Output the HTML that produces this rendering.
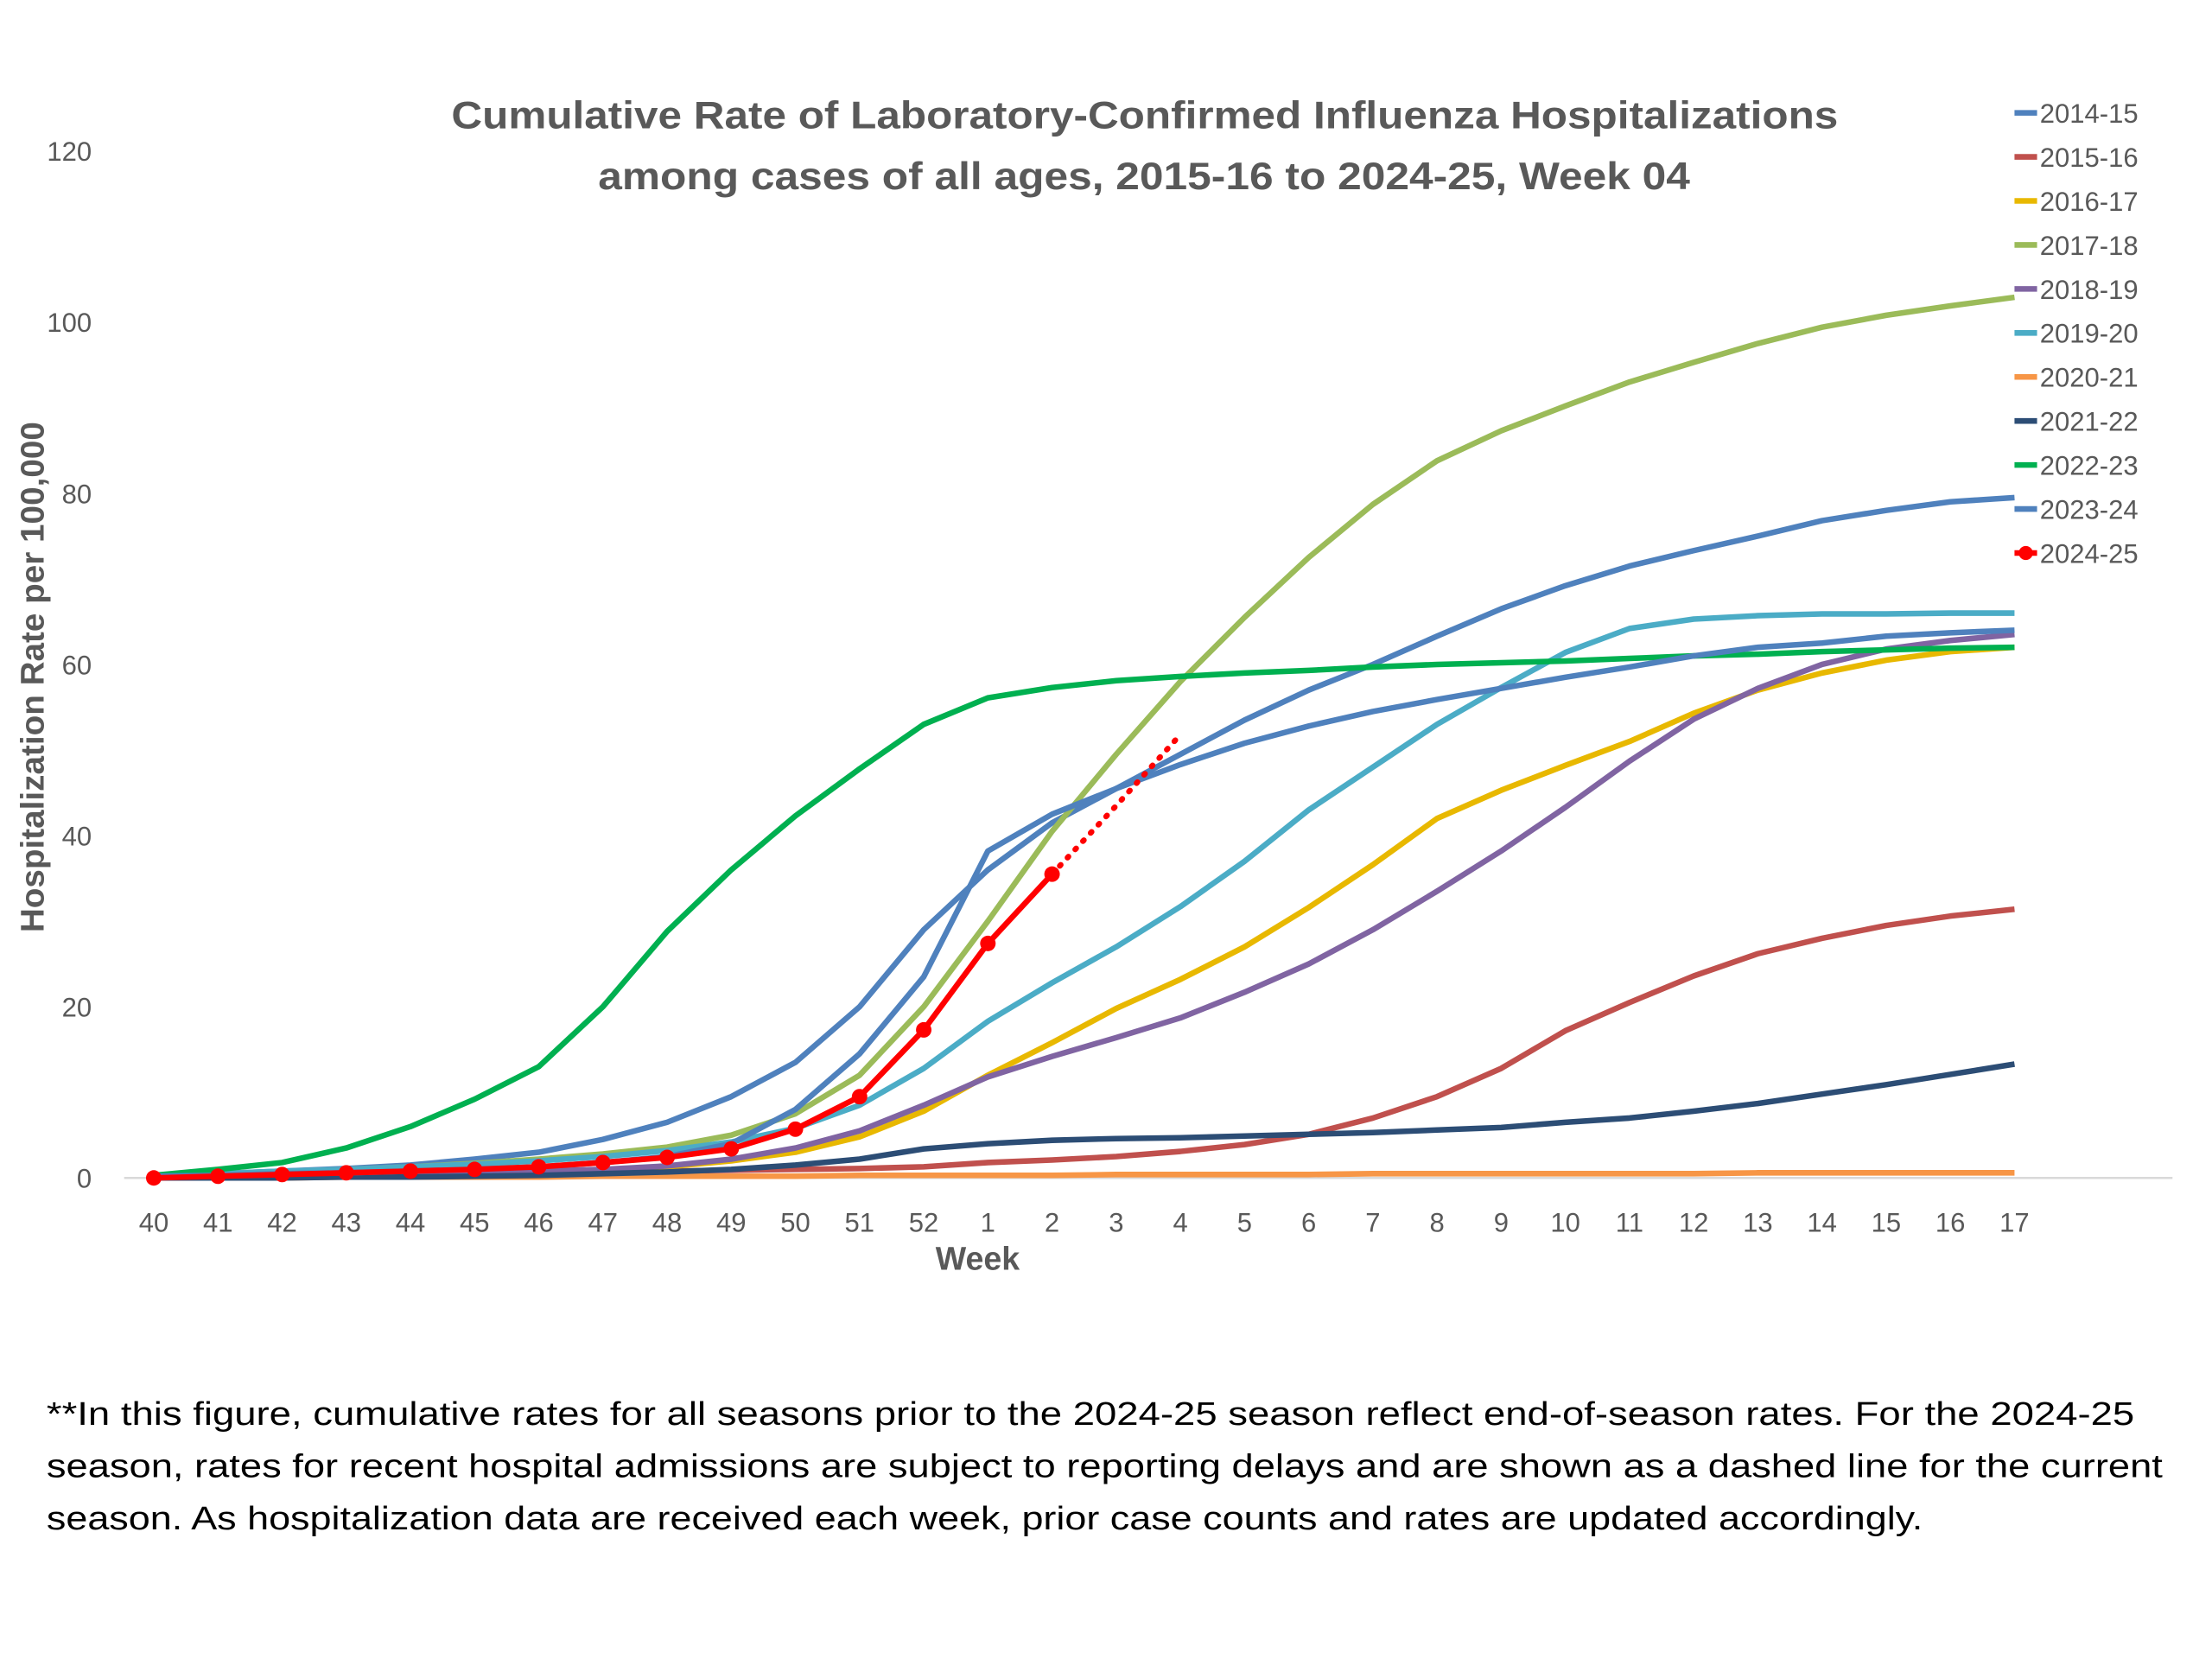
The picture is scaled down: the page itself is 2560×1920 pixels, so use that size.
<!DOCTYPE html>
<html><head><meta charset="utf-8"><style>
html,body{margin:0;padding:0;background:#fff}
svg{display:block}
text{font-family:"Liberation Sans",sans-serif}
</style></head><body>
<svg id="s" width="2560" height="1920" viewBox="0 0 1568 1176" xmlns="http://www.w3.org/2000/svg">
<rect width="1568" height="1176" fill="#fff"/>
<text x="320" y="91" textLength="983" lengthAdjust="spacingAndGlyphs" font-size="27" font-weight="bold" fill="#595959">Cumulative Rate of Laboratory-Confirmed Influenza Hospitalizations</text>
<text x="424" y="134" textLength="774" lengthAdjust="spacingAndGlyphs" font-size="27" font-weight="bold" fill="#595959">among cases of all ages, 2015-16 to 2024-25, Week 04</text>
<line x1="88" y1="835" x2="1540" y2="835" stroke="#d9d9d9" stroke-width="1.5"/>
<text transform="translate(31,480) rotate(-90)" text-anchor="middle" textLength="362" lengthAdjust="spacingAndGlyphs" font-size="23" font-weight="bold" fill="#595959">Hospitalization Rate per 100,000</text>
<text x="693" y="900" text-anchor="middle" font-size="23" font-weight="bold" fill="#595959">Week</text>
<g id="g"></g>
<g font-size="23" fill="#000">
<text x="33" y="1010" textLength="1480" lengthAdjust="spacingAndGlyphs">**In this figure, cumulative rates for all seasons prior to the 2024-25 season reflect end-of-season rates. For the 2024-25</text>
<text x="33" y="1047" textLength="1500" lengthAdjust="spacingAndGlyphs">season, rates for recent hospital admissions are subject to reporting delays and are shown as a dashed line for the current</text>
<text x="33" y="1084" textLength="1330" lengthAdjust="spacingAndGlyphs">season. As hospitalization data are received each week, prior case counts and rates are updated accordingly.</text>
</g>
</svg>
<script>
const NS="http://www.w3.org/2000/svg",g=document.getElementById('g');
const X=i=>109+i*45.483, Y=v=>835-v*6.0667;
function el(t,a,txt){const e=document.createElementNS(NS,t);for(const k in a)e.setAttribute(k,a[k]);if(txt!=null)e.textContent=txt;g.appendChild(e);return e;}
for(let v=0;v<=120;v+=20) el('text',{x:65,y:Y(v)+7,'text-anchor':'end','font-size':19,fill:'#595959'},v);
const wk=[];for(let w=40;w<=52;w++)wk.push(w);for(let w=1;w<=17;w++)wk.push(w);
wk.forEach((w,i)=>el('text',{x:X(i),y:873,'text-anchor':'middle','font-size':19,fill:'#595959'},w));
const S=[
["2014-15","#4F81BD",[0.3,0.5,0.8,1.1,1.5,2.2,3,4.5,6.5,9.5,13.5,20,29,36,41.5,45.5,49.5,53.5,57,60,63.3,66.5,69.2,71.5,73.3,75,76.8,78,79,79.5]],
["2015-16","#C0504D",[0,0.1,0.2,0.3,0.4,0.5,0.6,0.7,0.8,0.9,1,1.1,1.3,1.8,2.1,2.5,3.1,3.9,5.1,7,9.5,12.8,17.2,20.5,23.6,26.2,28,29.5,30.6,31.4]],
["2016-17","#E8B800",[0,0,0.1,0.2,0.3,0.4,0.6,0.9,1.3,2,3,4.8,7.8,12,15.8,19.8,23.2,27,31.6,36.6,42,45.3,48.2,51,54.3,57,59,60.5,61.5,62]],
["2017-18","#9BBB59",[0.2,0.4,0.7,1,1.3,1.7,2.2,2.8,3.6,5,7.5,12,20,30,40.5,49.5,58,65.5,72.5,78.7,83.8,87.3,90.2,93,95.3,97.5,99.4,100.8,101.9,102.9]],
["2018-19","#8064A2",[0.1,0.2,0.3,0.4,0.5,0.6,0.8,1,1.4,2.2,3.5,5.5,8.5,11.8,14.2,16.4,18.7,21.7,25,29,33.5,38.2,43.3,48.7,53.6,57.2,60,61.8,62.8,63.5]],
["2019-20","#4BACC6",[0.3,0.5,0.8,1,1.3,1.6,2,2.5,3.2,4.2,5.8,8.5,12.8,18.3,22.8,27,31.7,37,43,48,53,57.3,61.4,64.2,65.3,65.7,65.9,65.9,66,66]],
["2020-21","#F79646",[0,0,0,0.1,0.1,0.1,0.1,0.2,0.2,0.2,0.2,0.3,0.3,0.3,0.3,0.4,0.4,0.4,0.4,0.5,0.5,0.5,0.5,0.5,0.5,0.6,0.6,0.6,0.6,0.6]],
["2021-22","#2C4D75",[0,0,0,0.1,0.1,0.2,0.3,0.5,0.7,1,1.5,2.2,3.4,4,4.4,4.6,4.7,4.9,5.1,5.3,5.6,5.9,6.5,7,7.8,8.7,9.8,10.9,12.1,13.3]],
["2022-23","#00B050",[0.3,1,1.8,3.5,6,9.2,13,20,28.8,36,42.3,47.8,53,56.1,57.3,58.1,58.6,59,59.3,59.7,60,60.2,60.4,60.7,61,61.2,61.5,61.7,61.9,62]],
["2023-24","#4F81BD",[0.2,0.3,0.5,0.6,0.8,1,1.3,1.8,2.5,4,8,14.5,23.5,38.2,42.5,45.5,48.3,50.8,52.8,54.5,55.9,57.2,58.5,59.7,61,62,62.5,63.3,63.7,64]],
];
S.forEach(s=>el('polyline',{points:s[2].map((v,i)=>X(i)+','+Y(v)).join(' '),fill:'none',stroke:s[1],'stroke-width':4,'stroke-linejoin':'round'}));
const R=[0,0.2,0.4,0.6,0.8,1,1.3,1.8,2.4,3.4,5.7,9.5,17.3,27.4,35.5];
el('polyline',{points:[[14,35.5],[15,43.5],[16,51.8]].map(p=>X(p[0])+','+Y(p[1])).join(' '),fill:'none',stroke:'#FF0000','stroke-width':4,'stroke-dasharray':'1 7','stroke-linecap':'round'});
el('polyline',{points:R.map((v,i)=>X(i)+','+Y(v)).join(' '),fill:'none',stroke:'#FF0000','stroke-width':4});
R.forEach((v,i)=>el('circle',{cx:X(i),cy:Y(v),r:5.5,fill:'#FF0000'}));
const L=S.map(s=>[s[0],s[1]]).concat([["2024-25","#FF0000"]]);
L.forEach((l,k)=>{const y=80+k*31.2;
 el('line',{x1:1428,y1:y,x2:1444,y2:y,stroke:l[1],'stroke-width':4});
 if(k==10)el('circle',{cx:1436,cy:y,r:5,fill:'#FF0000'});
 el('text',{x:1446,y:y+7,'font-size':19,fill:'#595959'},l[0]);});
</script>
</body></html>
